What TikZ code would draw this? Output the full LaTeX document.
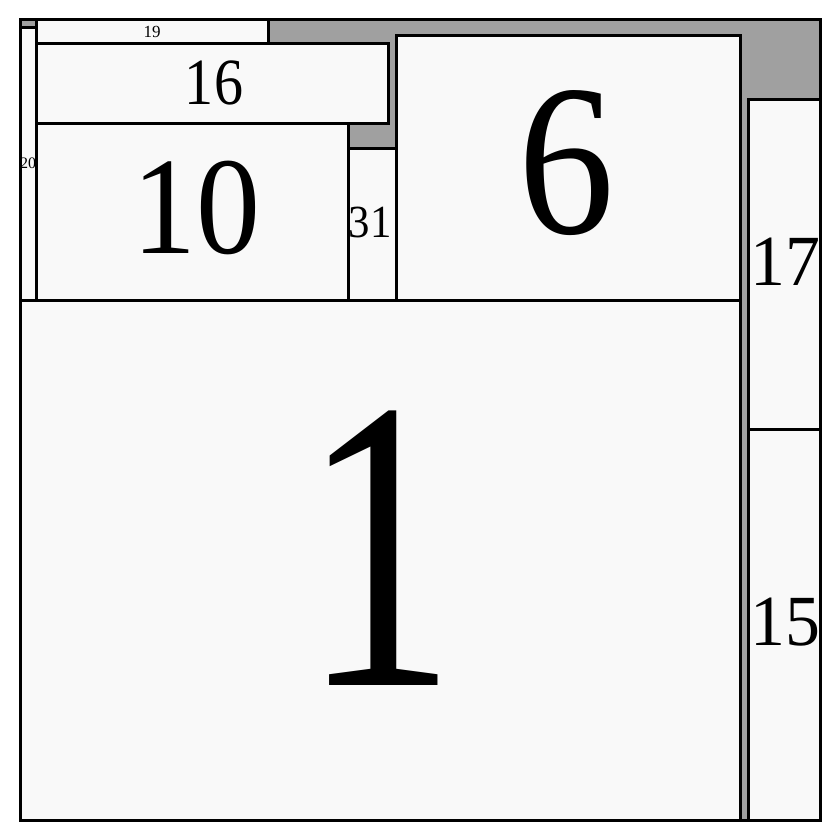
\documentclass[tikz,border=0pt]{standalone}
\usepackage{fontspec}
\setmainfont{Liberation Serif}
\definecolor{gapgray}{HTML}{A0A0A0}
\definecolor{boxfill}{HTML}{F9F9F9}
\newcommand{\fsz}[1]{\fontsize{#1}{#1}\selectfont}
\newcommand{\narrow}[2]{\scalebox{#1}[1]{#2}}
\begin{document}
\begin{tikzpicture}[x=1pt, y=-1pt, line width=3pt, line join=miter,
	box/.style={draw=black, fill=boxfill},
	lbl/.style={inner sep=0pt, text=black}]
	\useasboundingbox (0,0) rectangle (840,840);
	% free space
	\fill[gapgray] (20,20) rectangle (820,820);
	% cells
	\draw[box] (20,300) rectangle (740,820);
	\draw[box] (396,36) rectangle (740,300);
	\draw[box] (36,124) rectangle (348,300);
	\draw[box] (348,148) rectangle (396,300);
	\draw[box] (36,44) rectangle (388,124);
	\draw[box] (36,20) rectangle (268,44);
	\draw[box] (20,28) rectangle (36,300);
	\draw[box] (748,100) rectangle (820,429);
	\draw[box] (748,429) rectangle (820,820);
	% labels
	\node[lbl, font=\fsz{416}] (l1) at (379,548) {\narrow{0.74}{1}};
	\node[lbl, font=\fsz{216}] (l6) at (567,163) {\narrow{0.89}{6}};
	\node[lbl, font=\fsz{139}] (l10) at (196,208) {\narrow{0.92}{10}};
	\node[lbl, font=\fsz{66}] (l16) at (214,82.5) {\narrow{0.88}{16}};
	\node[lbl, font=\fsz{46}] (l31) at (370,222.5) {\narrow{0.93}{31}};
	\node[lbl, font=\fsz{17}] (l19) at (152,32) {19};
	\node[lbl, font=\fsz{16}] (l20) at (28,163.5) {20};
	\node[lbl, font=\fsz{72}] (l17) at (785,262) {\narrow{0.97}{17}};
	\node[lbl, font=\fsz{72}] (l15) at (785,622) {\narrow{0.97}{15}};
	% frame
	\draw (20,20) rectangle (820,820);
\end{tikzpicture}
\end{document}
